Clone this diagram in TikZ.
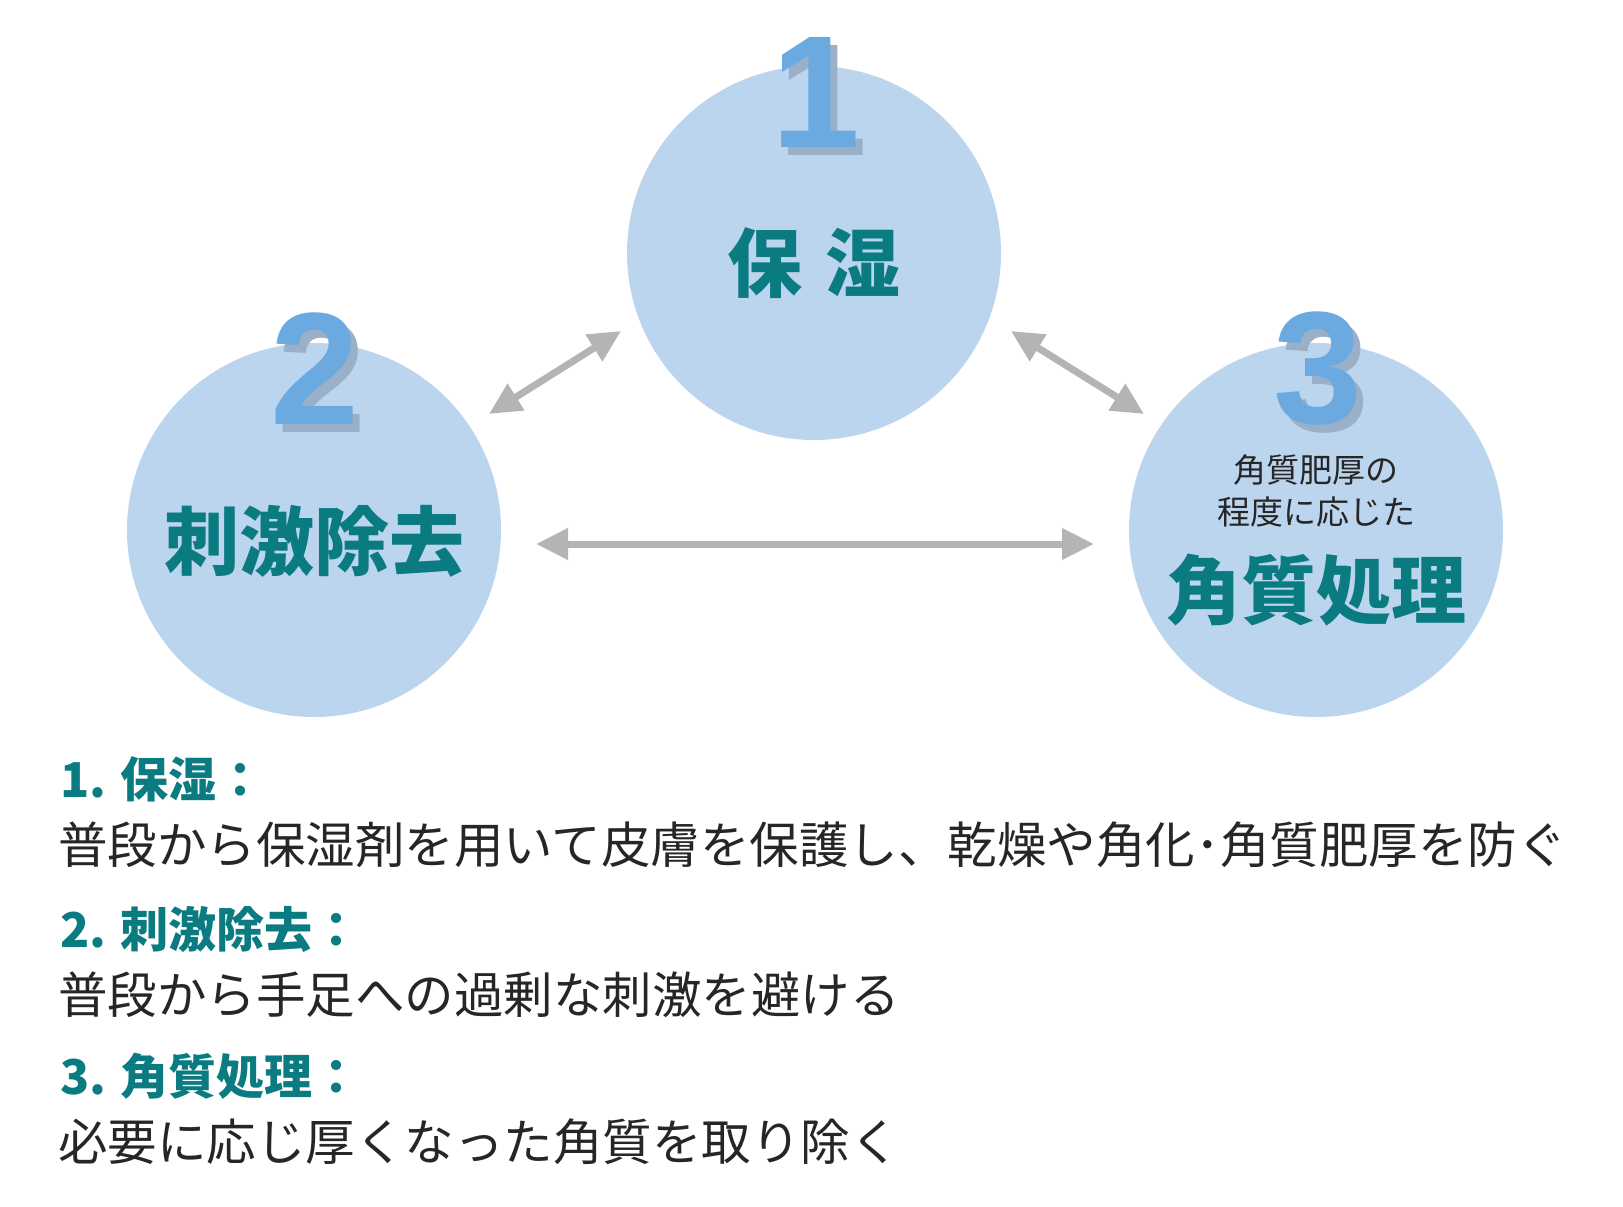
\documentclass[tikz,border=0pt]{standalone}
\usepackage{fontspec}
\setmainfont{Noto Sans CJK JP}
\newfontfamily\digitfont{Liberation Sans}
\usetikzlibrary{arrows.meta}
\definecolor{circ}{HTML}{BCD5EE}
\definecolor{numb}{HTML}{6AAAE0}
\definecolor{teal2}{HTML}{0B7B82}
\definecolor{arr}{HTML}{B4B4B4}
\definecolor{shad}{HTML}{9AAFC8}
\begin{document}
\begin{tikzpicture}[x=1pt,y=-1pt,
  circ/.style={circle,fill=circ,minimum size=374pt,inner sep=0},
  num/.style={font=\digitfont\bfseries\fontsize{160}{160}\selectfont,text=numb,inner sep=0},
  numsh/.style={font=\digitfont\bfseries\fontsize{160}{160}\selectfont,text=shad,inner sep=0},
  big/.style={font=\bfseries\fontsize{75}{75}\selectfont,text=teal2,inner sep=0},
  small/.style={font=\fontsize{33}{42}\selectfont,text=black!85,align=center,inner sep=0},
  head/.style={font=\bfseries\fontsize{48}{48}\selectfont,text=teal2,anchor=west,inner sep=0},
  body/.style={font=\fontsize{49.5}{50}\selectfont,text=black!85,anchor=west,inner sep=0},
  dar/.style={arr,line width=7pt,{Triangle[length=32pt,width=30pt]}-{Triangle[length=32pt,width=30pt]}}]
\useasboundingbox (0,0) rectangle (1623,1207);
\fill[white] (0,0) rectangle (1623,1207);
\node[circ] (c1) at (814,253) {};
\node[circ] (c2) at (314,530) {};
\node[circ] (c3) at (1316,530) {};
\node[numsh] (s1) at (823,100) {1};
\node[num] (n1) at (816,92) {1};
\node[numsh] (s2) at (322,377) {2};
\node[num] (n2) at (315,369) {2};
\node[numsh] (s3) at (1325,377) {3};
\node[num] (n3) at (1318,369) {3};
\node[big] (t1) at (814,263) {保\hspace{0.3em}湿};
\node[big] (t2) at (314,541) {刺激除去};
\node[small] (t3s) at (1316,491) {角質肥厚の\\程度に応じた};
\node[big] (t3) at (1316,590) {角質処理};
\coordinate (a1) at (489,414); \coordinate (a2) at (621,331);
\coordinate (b1) at (1011,331); \coordinate (b2) at (1144,414);
\coordinate (d1) at (536,544); \coordinate (d2) at (1094,544);
\draw[dar] (a1) -- (a2);
\draw[dar] (b1) -- (b2);
\draw[dar] (d1) -- (d2);
\node[head] (h1) at (60,779) {1. 保湿：};
\node[body] (b1t) at (58,845) {普段から保湿剤を用いて皮膚を保護し、乾燥や角化･角質肥厚を防ぐ};
\node[head] (h2) at (60,929) {2. 刺激除去：};
\node[body] (b2t) at (58,995) {普段から手足への過剰な刺激を避ける};
\node[head] (h3) at (60,1076) {3. 角質処理：};
\node[body] (b3t) at (58,1142) {必要に応じ厚くなった角質を取り除く};
\end{tikzpicture}
\end{document}
